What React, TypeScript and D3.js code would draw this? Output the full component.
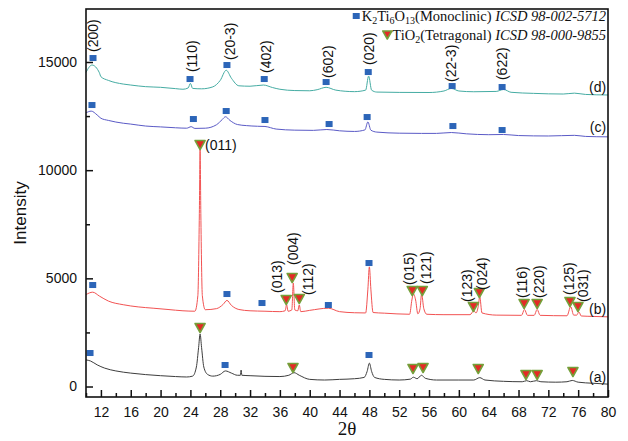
import React, { useEffect, useRef } from 'react';
import * as d3 from 'd3';

// 2-theta / intensity pairs
const seriesA = [
    [10.0, 1230], [10.6, 1180], [11.5, 1000], [12.5, 850], [14, 720], [16, 620], [18, 550], [20, 500],
    [22, 460], [23.5, 440], [24.3, 480], [24.8, 900], [25.1, 1800], [25.3, 2430], [25.5, 1800], [25.8, 900],
    [26.3, 560], [27, 480], [28, 560], [28.7, 720], [29.5, 620], [30.3, 520], [30.7, 520], [30.8, 760],
    [30.9, 520], [32, 500], [34, 470], [36, 460], [37.2, 520], [37.9, 640], [38.6, 520], [40, 330],
    [42, 300], [44, 330], [46, 360], [47.3, 420], [47.7, 700], [48.0, 1080], [48.3, 700], [48.7, 420],
    [50, 330], [52, 300], [53.5, 340], [53.9, 430], [54.4, 360], [55.0, 520], [55.5, 380], [57, 300],
    [60, 300], [62, 300], [62.8, 410], [63.5, 300], [66, 240], [68.5, 220], [69.1, 270], [69.6, 220],
    [70.4, 270], [71, 220], [73, 200], [74.5, 220], [75.2, 280], [76, 200], [78, 150], [80, 110]
];
const seriesB = [
    [10.0, 4250], [10.9, 4360], [11.8, 4180], [13, 3950], [15, 3780], [17, 3680], [19, 3620], [21, 3560],
    [23, 3500], [24.6, 3480], [25.0, 4200], [25.2, 8000], [25.3, 10950], [25.4, 8000], [25.6, 4200], [26, 3550],
    [27.5, 3600], [28.4, 3800], [28.9, 3980], [29.5, 3750], [30.5, 3560], [32, 3500], [34, 3480], [36, 3460],
    [36.7, 3500], [36.9, 3780], [37.1, 3480], [37.6, 3540], [37.8, 4780], [38.0, 3540], [38.4, 3500], [38.6, 3770],
    [38.8, 3460], [40, 3520], [42.5, 3620], [44, 3460], [46, 3410], [47.5, 3400], [47.8, 4500], [48.0, 5530],
    [48.2, 4500], [48.5, 3420], [50, 3390], [53.4, 3340], [53.7, 4000], [53.9, 4280], [54.2, 4000], [54.5, 3360],
    [54.8, 3600], [55.0, 4280], [55.3, 3600], [55.7, 3340], [58, 3320], [61.5, 3320], [62.0, 3500], [62.3, 3400],
    [62.6, 3700], [62.8, 4150], [63.1, 3400], [65, 3300], [68.4, 3290], [68.8, 3560], [69.2, 3290], [70.1, 3290],
    [70.5, 3560], [70.9, 3290], [74.5, 3270], [75.0, 3690], [75.4, 3300], [75.8, 3300], [76.1, 3450], [76.4, 3260],
    [78, 3240], [80, 3220]
];
const seriesC = [
    [10.0, 12650], [10.7, 12730], [11.5, 12550], [12, 12400], [13, 12300], [15, 12170], [16, 12130], [18, 12040],
    [20, 12000], [22, 11960], [23.5, 11940], [24.1, 12010], [24.6, 11930], [26, 11940], [27.5, 12100], [28.3, 12350],
    [28.7, 12470], [29.3, 12300], [30.3, 12110], [31.5, 12060], [33, 12030], [34, 12020], [35.5, 11900], [38, 11850],
    [40.5, 11840], [42.3, 11880], [44, 11820], [46, 11790], [47.4, 11860], [47.8, 12230], [48.2, 11850], [49, 11760],
    [52, 11710], [55, 11700], [57, 11700], [59, 11740], [61, 11680], [64, 11640], [66, 11650], [68, 11600],
    [72, 11580], [75.5, 11610], [77, 11560], [80, 11540]
];
const seriesD = [
    [10.0, 14520], [10.8, 14860], [11.8, 14500], [12, 14320], [13, 14150], [15, 13980], [16, 13935], [18, 13860],
    [20, 13830], [22, 13770], [23, 13740], [23.7, 13800], [24.0, 14010], [24.3, 13780], [25.5, 13760], [27, 13850],
    [28, 14150], [28.8, 14620], [29.5, 14250], [30.5, 13900], [32, 13880], [33.8, 13935], [35, 13820], [36, 13740],
    [38, 13680], [40, 13670], [41, 13720], [42.2, 13830], [43.5, 13700], [46, 13630], [47.5, 13700], [47.9, 14350],
    [48.3, 13700], [49, 13610], [52, 13595], [56, 13590], [58, 13660], [59, 13780], [60, 13660], [62, 13625],
    [65, 13640], [66, 13730], [67, 13600], [70, 13550], [74, 13520], [75.5, 13560], [77, 13500], [80, 13475]
];

// K2Ti6O13 square markers
const monoMarks = [
    [10.94, 15184], [23.95, 14213], [28.9, 14860], [33.9, 14213], [42.2, 14074], [47.85, 14536], [59.1, 13889], [65.8, 13843],
    [10.8, 13011], [24.4, 12364], [28.8, 12734], [34.0, 12318], [42.6, 12133], [47.7, 12456], [59.2, 12040], [65.8, 11855],
    [10.9, 4691], [28.9, 4275], [33.6, 3859], [42.5, 3767], [47.95, 5708],
    [10.54, 1548], [28.65, 994], [47.95, 1456]
];
// TiO2 triangle markers
const tetraMarks = [
    [25.3, 11162], [36.85, 3998], [37.65, 5015], [38.6, 4044], [53.75, 4414], [55.1, 4414], [61.95, 3675], [62.75, 4322],
    [68.75, 3813], [70.5, 3813], [74.9, 3906], [75.97, 3675],
    [25.3, 2704], [37.76, 855], [53.85, 809], [55.2, 855], [62.6, 809], [69.0, 532], [70.5, 532], [75.3, 670]
];
// vertical hkl labels: text, 2theta, intensity at the foot of the label
const hklLabels = [
    ["(200)", 10.94, 15461], ["(110)", 24.22, 14536], ["(20-3)", 29.31, 15091], ["(402)", 34.14, 14490],
    ["(602)", 42.45, 14259], ["(020)", 47.95, 14860], ["(22-3)", 58.95, 14074], ["(622)", 65.8, 14166],
    ["(013)", 35.6, 4322], ["(004)", 37.77, 5616], ["(112)", 39.8, 4229], ["(015)", 53.35, 4691],
    ["(121)", 55.63, 4738], ["(123)", 61.1, 3906], ["(024)", 63.1, 4460], ["(116)", 68.47, 4090],
    ["(220)", 70.75, 4090], ["(125)", 74.77, 4229], ["(031)", 76.65, 3906]
];
const sampleLabels = [["(d)", 13843], ["(c)", 11994], ["(b)", 3582], ["(a)", 439]];

const xMajor = d3.range(12, 81, 4);
const xMinor = d3.range(10, 80, 4);
const yMajor = [0, 5000, 10000, 15000];
const yMinor = [2500, 7500, 12500];

const sans = "'Liberation Sans', Arial, sans-serif";
const serif = "'Liberation Serif', 'Times New Roman', serif";
const squareColor = "#2c65b8";

function App() {
    const d3Container = useRef(null);

    useEffect(() => {
        const svg = d3.select(d3Container.current);
        svg.selectAll("*").remove();

        const width = 628, height = 441;
        const margin = { top: 9, right: 20, bottom: 44, left: 86 };

        const x = d3.scaleLinear().domain([10, 80]).range([margin.left, width - margin.right]);
        const y = d3.scaleLinear().domain([-485, 17450]).range([height - margin.bottom, margin.top]);

        const line = d3.line().x(d => x(d[0])).y(d => y(d[1])).curve(d3.curveMonotoneX);

        const curves = [[seriesA, "#3d3d3d"], [seriesB, "#f25252"], [seriesC, "#5a5ac6"], [seriesD, "#45aca3"]];
        curves.forEach(([data, color]) => {
            svg.append("path")
                .attr("d", line(data))
                .attr("fill", "none")
                .attr("stroke", color)
                .attr("stroke-width", 1);
        });

        // markers
        svg.append("g")
            .selectAll("rect")
            .data(monoMarks)
            .join("rect")
            .attr("x", d => x(d[0]) - 3.5)
            .attr("y", d => y(d[1]) - 3)
            .attr("width", 7)
            .attr("height", 6)
            .attr("fill", squareColor);

        const tri = "M-5,-4.5L5,-4.5L0,4.5Z";
        svg.append("g")
            .selectAll("path")
            .data(tetraMarks)
            .join("path")
            .attr("d", tri)
            .attr("transform", d => `translate(${x(d[0])},${y(d[1])})`)
            .attr("fill", "#e42a26")
            .attr("stroke", "#74a03a")
            .attr("stroke-width", 1.6)
            .attr("stroke-linejoin", "round");

        // hkl labels
        svg.append("g")
            .selectAll("text")
            .data(hklLabels)
            .join("text")
            .attr("transform", d => `translate(${x(d[1])},${y(d[2])}) rotate(-90)`)
            .attr("dy", "0.35em")
            .attr("font-family", sans)
            .attr("font-size", 14)
            .attr("fill", "#111")
            .text(d => d[0]);

        svg.append("text")
            .attr("x", x(25.97))
            .attr("y", y(11162))
            .attr("dy", "0.35em")
            .attr("font-family", sans)
            .attr("font-size", 14)
            .attr("fill", "#111")
            .text("(011)");

        svg.append("g")
            .selectAll("text")
            .data(sampleLabels)
            .join("text")
            .attr("x", x(79.75))
            .attr("y", d => y(d[1]))
            .attr("dy", "0.35em")
            .attr("text-anchor", "end")
            .attr("font-family", sans)
            .attr("font-size", 14)
            .attr("fill", "#111")
            .text(d => d[0]);

        // axes
        const styleAxis = g => {
            g.select(".domain").remove();
            g.selectAll("line").attr("stroke", "#111").attr("stroke-width", 1.5);
            g.selectAll("text").attr("font-family", sans).attr("font-size", 14).attr("fill", "#111");
        };
        svg.append("g")
            .attr("transform", `translate(0,${height - margin.bottom})`)
            .call(d3.axisBottom(x).tickValues(xMinor).tickSize(-4).tickFormat(() => ""))
            .call(styleAxis);
        svg.append("g")
            .attr("transform", `translate(0,${height - margin.bottom})`)
            .call(d3.axisBottom(x).tickValues(xMajor).tickSize(-7).tickPadding(10).tickFormat(d3.format("d")))
            .call(styleAxis);
        svg.append("g")
            .attr("transform", `translate(${margin.left},0)`)
            .call(d3.axisLeft(y).tickValues(yMinor).tickSize(-4).tickFormat(() => ""))
            .call(styleAxis);
        svg.append("g")
            .attr("transform", `translate(${margin.left},0)`)
            .call(d3.axisLeft(y).tickValues(yMajor).tickSize(-7).tickPadding(9).tickFormat(d3.format("d")))
            .call(styleAxis);

        svg.append("rect")
            .attr("x", margin.left)
            .attr("y", margin.top)
            .attr("width", width - margin.left - margin.right)
            .attr("height", height - margin.top - margin.bottom)
            .attr("fill", "none")
            .attr("stroke", "#111")
            .attr("stroke-width", 1.6);

        svg.append("text")
            .attr("transform", `translate(20,${(margin.top + height - margin.bottom) / 2 + 10}) rotate(-90)`)
            .attr("text-anchor", "middle")
            .attr("dy", "0.35em")
            .attr("font-family", sans)
            .attr("font-size", 17)
            .attr("fill", "#111")
            .text("Intensity");

        svg.append("text")
            .attr("x", (margin.left + width - margin.right) / 2)
            .attr("y", 435)
            .attr("text-anchor", "middle")
            .attr("font-family", serif)
            .attr("font-size", 19)
            .attr("fill", "#111")
            .text("2θ");

        // legend
        const legendX = 606;
        const l1 = svg.append("text")
            .attr("x", legendX).attr("y", 21)
            .attr("text-anchor", "end")
            .attr("font-family", serif)
            .attr("font-size", 14.5)
            .attr("fill", "#111");
        l1.append("tspan").text("K");
        l1.append("tspan").attr("dy", 3).attr("font-size", 10).text("2");
        l1.append("tspan").attr("dy", -3).text("Ti");
        l1.append("tspan").attr("dy", 3).attr("font-size", 10).text("6");
        l1.append("tspan").attr("dy", -3).text("O");
        l1.append("tspan").attr("dy", 3).attr("font-size", 10).text("13");
        l1.append("tspan").attr("dy", -3).text("(Monoclinic) ");
        l1.append("tspan").attr("font-style", "italic").text("ICSD 98-002-5712");

        const l2 = svg.append("text")
            .attr("x", legendX).attr("y", 40)
            .attr("text-anchor", "end")
            .attr("font-family", serif)
            .attr("font-size", 14.5)
            .attr("fill", "#111");
        l2.append("tspan").text("TiO");
        l2.append("tspan").attr("dy", 3).attr("font-size", 10).text("2");
        l2.append("tspan").attr("dy", -3).text("(Tetragonal) ");
        l2.append("tspan").attr("font-style", "italic").text("ICSD 98-000-9855");

        const b1 = l1.node().getBBox();
        svg.append("rect")
            .attr("x", b1.x - 9).attr("y", 13)
            .attr("width", 7).attr("height", 6)
            .attr("fill", squareColor);
        const b2 = l2.node().getBBox();
        svg.append("path")
            .attr("d", "M-4.5,-4L4.5,-4L0,4Z")
            .attr("transform", `translate(${b2.x - 5},35)`)
            .attr("fill", "#e42a26")
            .attr("stroke", "#74a03a")
            .attr("stroke-width", 1.6)
            .attr("stroke-linejoin", "round");
    }, []);

    return (
        <svg
            width={628}
            height={441}
            ref={d3Container}
            style={{ position: "absolute", left: 0, top: 0, background: "white" }}
        />
    );
}

export default App;
